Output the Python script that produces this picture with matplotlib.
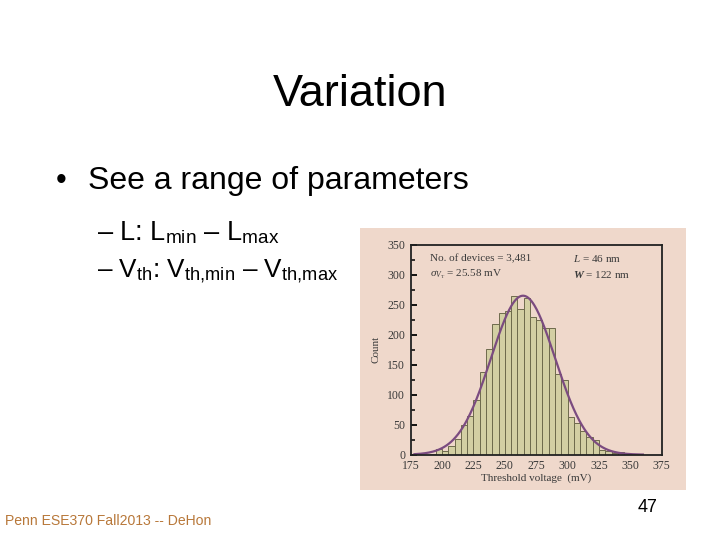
import numpy as np
import matplotlib.pyplot as plt
from matplotlib.patches import Rectangle

plt.rcParams['mathtext.fontset'] = 'custom'
plt.rcParams['mathtext.sf'] = 'Liberation Sans'
plt.rcParams['mathtext.rm'] = 'Liberation Serif'
plt.rcParams['mathtext.it'] = 'Liberation Serif:italic'
plt.rcParams['mathtext.bf'] = 'Liberation Serif:bold'
plt.rcParams['mathtext.bfit'] = 'Liberation Serif:italic:bold'

# histogram data (5 mV bins, left edges)
bin_left = [190, 195, 200, 205, 210, 215, 220, 225, 230, 235, 240, 245, 250, 255,
            260, 265, 270, 275, 280, 285, 290, 295, 300, 305, 310, 315, 320, 325,
            330, 335, 340]
counts = [2, 9, 7, 14, 27, 50, 64, 92, 138, 176, 218, 236, 240, 264,
          243, 262, 229, 225, 211, 211, 134, 124, 63, 53, 40, 29, 24, 8,
          7, 3, 4]
bin_width = 5

# normal fit shown on the plot
mu = 264.5
sigma = 25.58
peak = 265

xticks = [175, 200, 225, 250, 275, 300, 325, 350, 375]
yticks = [0, 50, 100, 150, 200, 250, 300, 350]

fig = plt.figure(figsize=(7.2, 5.4), dpi=100)
fig.patch.set_facecolor('white')

# slide text
sans = 'Liberation Sans'
fig.text(0.5, 0.825, 'Variation', ha='center', va='center', fontsize=32.5, family=sans)
fig.text(0.078, 0.665, '•', ha='left', va='center', fontsize=22, family=sans)
fig.text(0.122, 0.665, 'See a range of parameters', ha='left', va='center', fontsize=23, family=sans)
fig.text(0.135, 0.57, r'– L: L$_{\mathsf{min}}$ – L$_{\mathsf{max}}$', ha='left', va='center',
         fontsize=19.5, family=sans)
fig.text(0.135, 0.498, r'– V$_{\mathsf{th}}$: V$_{\mathsf{th{,}min}}$ – V$_{\mathsf{th{,}max}}$',
         ha='left', va='center', fontsize=18.8, family=sans)
fig.text(0.007, 0.035, 'Penn ESE370 Fall2013 -- DeHon', ha='left', va='center',
         fontsize=10.1, family=sans, color='#b8783a')
fig.text(0.9, 0.06, '47', ha='center', va='center', fontsize=13, family=sans)

# picture background
fig.patches.append(Rectangle((360 / 720, 1 - 490 / 540), 326 / 720, 262 / 540,
                             transform=fig.transFigure, facecolor='#efd8cb',
                             edgecolor='none', zorder=-5))

ax = fig.add_axes([410.7 / 720, 1 - 454.7 / 540, 251 / 720, 210 / 540])
ax.set_facecolor('#efd8cb')
ax.bar(bin_left, counts, width=bin_width, align='edge', color='#d3cfa3',
       edgecolor='#6e6a4c', linewidth=0.7)
xs = np.linspace(178, 360, 300)
ax.plot(xs, peak * np.exp(-0.5 * ((xs - mu) / sigma) ** 2), color='#7b4b80', lw=1.6)

ax.set_xlim(175, 375)
ax.set_ylim(0, 350)
ax.set_xticks(xticks)
ax.set_yticks(yticks)
ax.set_yticks(np.arange(25, 350, 50), minor=True)
serif = 'Liberation Serif'
ax.set_xticklabels([str(t) for t in xticks], family=serif, fontsize=8.5, color='#3a3a3a')
ax.set_yticklabels([str(t) for t in yticks], family=serif, fontsize=8.5, color='#3a3a3a')
ax.tick_params(axis='y', which='major', direction='in', length=4, width=1.3, pad=4)
ax.tick_params(axis='y', which='minor', direction='in', length=3, width=1.1)
ax.tick_params(axis='x', length=0, pad=4)
for s in ax.spines.values():
    s.set_color('#222222')
    s.set_linewidth(1.3)
ax.set_xlabel('Threshold voltage  (mV)', family=serif, fontsize=8, color='#3a3a3a', labelpad=1)
ax.set_ylabel('Count', family=serif, fontsize=8, color='#3a3a3a', labelpad=5)

ax.text(190, 327, 'No. of devices = 3,481', family=serif, fontsize=8, color='#3a3a3a', va='center')
ax.text(190, 301, r'$\sigma_{V_\mathrm{T}}$ = 25.58 mV', family=serif, fontsize=8,
        color='#3a3a3a', va='center')
ax.text(304, 327, r'$L$ = 46 nm', family=serif, fontsize=8, color='#3a3a3a', va='center')
ax.text(304, 301, r'$\mathbfit{W}$ = 122 nm', family=serif, fontsize=8,
        color='#3a3a3a', va='center')

fig.savefig('out.png', dpi=100)
